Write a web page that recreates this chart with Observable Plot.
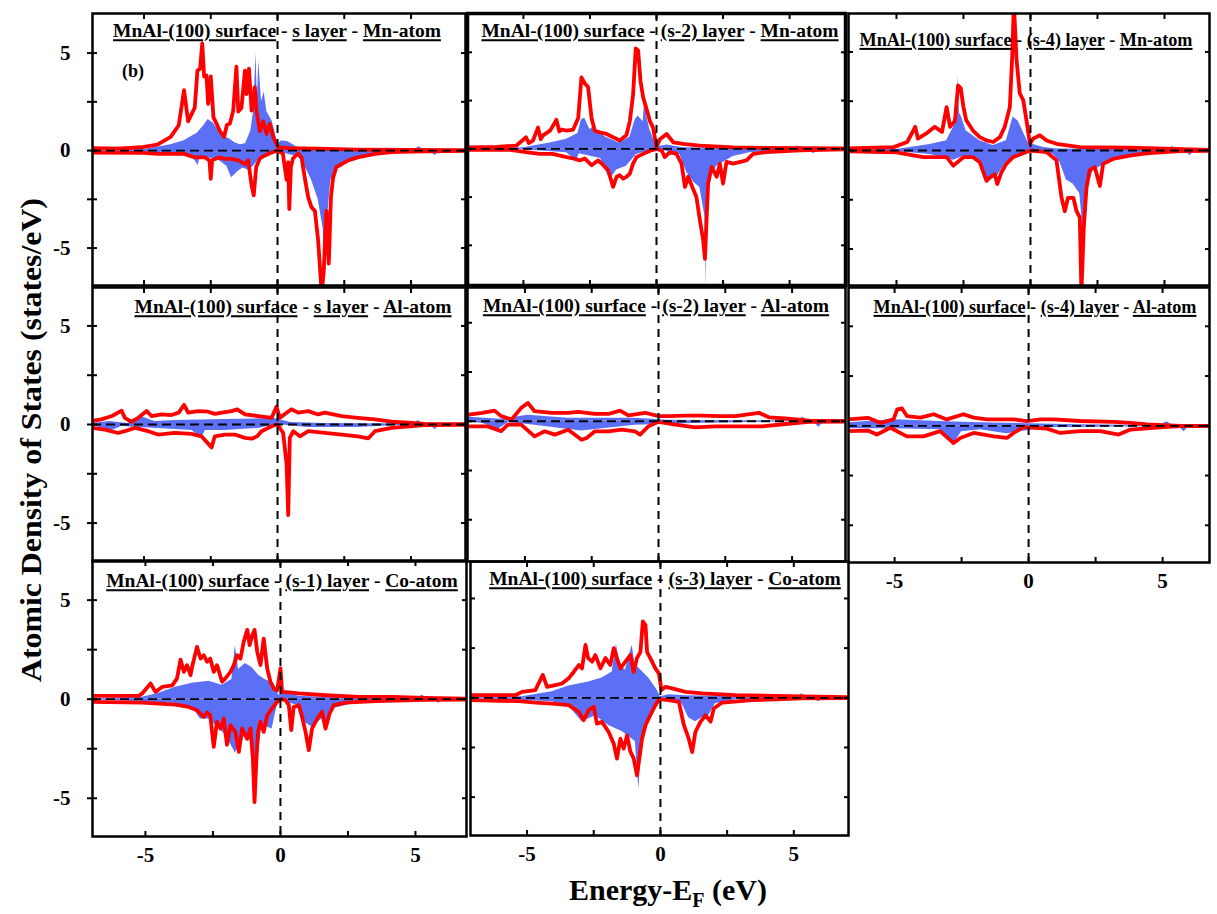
<!DOCTYPE html>
<html><head><meta charset="utf-8">
<script src="https://cdn.jsdelivr.net/npm/d3@7"></script>
<script src="https://cdn.jsdelivr.net/npm/@observablehq/plot@0.6"></script>
<style>
body{margin:0;background:#fff;}
#fig{position:relative;width:1217px;height:914px;font-family:"Liberation Serif","Times New Roman",serif;font-weight:bold;color:#000;overflow:hidden;}
.ttl{position:absolute;font-size:19.5px;white-space:nowrap;transform:translate(-50%,-50%);line-height:1;}
.ttl u{text-decoration:underline;text-decoration-thickness:1.6px;text-underline-offset:2px;}
.ylab{position:absolute;font-size:30px;white-space:nowrap;transform:translate(-50%,-50%) rotate(-90deg) scaleX(1.06);}
.xlab{position:absolute;font-size:30px;white-space:nowrap;transform:translate(-50%,-50%);}
.tag{position:absolute;font-size:18px;}
</style></head>
<body><div id="fig"></div>
<script>
// ---------------- data: [energy (eV), DOS (states/eV)] ----------------
// Panel 1: s layer Mn-atom
const p1RedUp = [[-7,0.12],[-6,0.1],[-5.1,0.17],[-4.5,0.3],[-4.0,0.7],[-3.7,1.3],[-3.5,3.1],[-3.35,1.5],[-3.1,2.2],[-3.0,4.1],[-2.9,4.2],[-2.82,5.5],[-2.75,3.8],[-2.66,3.85],[-2.6,2.4],[-2.5,3.8],[-2.4,1.7],[-2.28,1.37],[-2.16,1.0],[-2.0,0.7],[-1.9,1.3],[-1.78,1.4],[-1.66,2.05],[-1.54,4.3],[-1.47,2.0],[-1.35,2.2],[-1.22,4.1],[-1.16,2.9],[-1.07,4.2],[-0.97,2.05],[-0.85,3.25],[-0.79,2.05],[-0.66,1.0],[-0.54,1.5],[-0.41,0.85],[-0.29,1.37],[-0.16,0.7],[-0.04,0.34],[0.02,0.17],[0.5,0.12],[1.5,0.1],[3,0.05],[5,0.03],[7,0.02]];
const p1RedDn = [[-7,-0.1],[-5,-0.12],[-4.5,-0.17],[-3.5,-0.17],[-3.1,-0.35],[-2.72,-0.35],[-2.55,-0.5],[-2.5,-1.45],[-2.45,-0.5],[-2.2,-0.35],[-1.97,-0.43],[-1.72,-0.43],[-1.47,-0.5],[-1.22,-0.7],[-1.1,-0.5],[-0.97,-1.8],[-0.89,-2.3],[-0.8,-0.85],[-0.66,-0.4],[-0.47,-0.25],[-0.22,-0.1],[0,0],[0.2,-0.15],[0.34,-1.5],[0.4,-0.6],[0.44,-3.0],[0.5,-0.85],[0.58,-0.4],[0.77,-0.15],[0.9,-0.35],[1.02,-1.4],[1.15,-2.4],[1.27,-2.9],[1.4,-3.1],[1.52,-4.6],[1.65,-7.2],[1.73,-6.2],[1.83,-3.1],[1.92,-5.8],[2.0,-2.4],[2.08,-1.4],[2.2,-0.85],[2.4,-0.7],[2.65,-0.5],[3.0,-0.35],[3.65,-0.17],[4.27,-0.08],[5,-0.05],[7,-0.02]];
const p1BlueUp = [[-7,0.02],[-5,0.05],[-4,0.3],[-3.5,0.5],[-3.0,0.9],[-2.75,1.3],[-2.6,1.6],[-2.4,1.4],[-2.2,1.0],[-2.0,0.7],[-1.8,0.6],[-1.6,0.4],[-1.4,0.3],[-1.2,0.35],[-1.0,1.0],[-0.9,2.0],[-0.8,5.0],[-0.76,2.5],[-0.7,4.6],[-0.6,2.5],[-0.5,3.0],[-0.4,2.0],[-0.2,1.5],[-0.1,1.0],[0,0.3],[0.15,0.5],[0.4,0.45],[0.7,0.2],[1.0,0.12],[2,0.05],[5.1,0.02],[5.3,0.2],[5.5,0.02],[7,0]];
const p1BlueDn = [[-7,-0.02],[-5,-0.05],[-4,-0.15],[-3.2,-0.3],[-2.97,-0.77],[-2.9,-0.3],[-2.5,-0.4],[-2.2,-0.5],[-1.9,-0.8],[-1.72,-1.4],[-1.5,-1.1],[-1.3,-0.9],[-1.1,-1.0],[-0.9,-0.8],[-0.72,-0.5],[-0.3,-0.1],[0,0],[0.4,-0.2],[0.77,-0.3],[1.02,-0.8],[1.27,-1.5],[1.52,-2.5],[1.71,-4.0],[1.77,-7.2],[1.83,-3.5],[1.9,-3.0],[2.0,-1.5],[2.27,-0.9],[2.77,-0.5],[3.5,-0.25],[4.5,-0.08],[5.7,-0.03],[5.9,-0.25],[6.1,-0.03],[7,0]];

// Panel 2: (s-2) layer Mn-atom
const p2RedUp = [[-7.1,0.08],[-6,0.1],[-5.26,0.17],[-4.9,0.6],[-4.8,0.3],[-4.64,0.43],[-4.45,1.1],[-4.35,0.5],[-4.26,0.7],[-4.0,0.94],[-3.76,1.5],[-3.65,0.9],[-3.57,1.0],[-3.38,0.94],[-3.13,1.0],[-2.94,1.6],[-2.82,3.7],[-2.7,3.4],[-2.57,3.2],[-2.44,1.6],[-2.32,0.94],[-2.13,0.85],[-1.88,0.77],[-1.63,0.6],[-1.38,0.43],[-1.13,0.7],[-1.0,1.45],[-0.88,2.8],[-0.78,5.2],[-0.69,5.1],[-0.6,3.5],[-0.5,2.65],[-0.38,2.1],[-0.25,1.45],[-0.13,1.1],[0,0.1],[0.13,0.5],[0.38,0.77],[0.63,0.34],[1.0,0.26],[1.63,0.17],[2.88,0.08],[4.1,0.05],[7.1,0.02]];
const p2RedDn = [[-7.1,-0.05],[-5.5,-0.05],[-4.9,-0.17],[-4.4,-0.26],[-3.9,-0.26],[-3.38,-0.43],[-3.13,-0.5],[-2.88,-0.6],[-2.7,-0.5],[-2.44,-0.85],[-2.19,-0.6],[-2.0,-0.85],[-1.82,-1.1],[-1.63,-1.97],[-1.5,-1.45],[-1.38,-1.37],[-1.25,-1.54],[-1.13,-1.45],[-1.0,-1.28],[-0.88,-0.77],[-0.75,-0.43],[-0.5,-0.26],[-0.19,-0.08],[0,0],[0.2,-0.1],[0.31,-0.43],[0.5,-0.17],[0.75,-0.26],[0.94,-0.77],[1.07,-1.97],[1.19,-1.45],[1.38,-2.1],[1.5,-2.5],[1.63,-3.7],[1.75,-4.7],[1.82,-5.7],[1.88,-3.7],[1.94,-1.8],[2.07,-0.94],[2.26,-1.45],[2.38,-0.77],[2.5,-1.8],[2.63,-0.68],[2.88,-0.77],[3.38,-0.6],[3.63,-0.26],[4.13,-0.17],[5.4,-0.08],[7.1,-0.03]];
const p2BlueUp = [[-7.1,0.02],[-5,0.05],[-4.0,0.3],[-3.38,0.5],[-2.95,0.8],[-2.82,1.5],[-2.7,1.6],[-2.5,1.0],[-2.3,1.2],[-2.25,0.9],[-1.9,0.6],[-1.4,0.3],[-1.0,0.6],[-0.8,1.5],[-0.69,1.7],[-0.5,1.4],[-0.44,2.6],[-0.35,1.6],[-0.25,1.0],[-0.06,0.3],[0,0.1],[0.4,0.2],[1.0,0.05],[5.1,0.02],[5.3,0.15],[5.5,0.02],[7.1,0]];
const p2BlueDn = [[-7.1,-0.02],[-5,-0.05],[-3.38,-0.2],[-3.0,-0.6],[-2.9,-0.25],[-2.1,-0.5],[-1.75,-1.6],[-1.5,-1.1],[-1.13,-0.9],[-0.75,-0.3],[0,0],[0.88,-0.3],[1.13,-1.2],[1.38,-1.7],[1.63,-2.0],[1.82,-3.5],[1.85,-7.2],[1.9,-2.5],[2.0,-1.5],[2.26,-0.9],[2.88,-0.4],[3.5,-0.2],[5.7,-0.03],[5.9,-0.25],[6.1,-0.03],[7.1,0]];

// Panel 3: (s-4) layer Mn-atom
const p3RedUp = [[-6.8,0.1],[-5.1,0.17],[-4.6,0.43],[-4.3,1.2],[-4.2,0.6],[-3.9,0.85],[-3.57,1.2],[-3.3,0.94],[-3.13,2.2],[-3.0,1.2],[-2.82,1.5],[-2.7,3.3],[-2.6,3.15],[-2.5,2.2],[-2.4,1.54],[-2.14,1.0],[-1.89,0.68],[-1.64,0.51],[-1.39,0.43],[-1.14,0.68],[-0.96,1.2],[-0.77,2.2],[-0.68,4.8],[-0.62,7.5],[-0.52,4.6],[-0.4,2.9],[-0.27,2.56],[-0.15,1.54],[-0.02,0.34],[0.1,0.6],[0.35,0.77],[0.6,0.51],[0.97,0.34],[1.84,0.17],[3.7,0.14],[6.7,0.03]];
const p3RedDn = [[-6.8,-0.05],[-5,-0.1],[-4.0,-0.34],[-3.13,-0.34],[-2.88,-0.77],[-2.5,-0.34],[-2.14,-0.34],[-1.89,-0.6],[-1.64,-1.54],[-1.52,-1.37],[-1.33,-1.2],[-1.24,-1.7],[-1.08,-1.1],[-0.9,-0.68],[-0.65,-0.34],[-0.15,-0.08],[0,0],[0.6,-0.08],[0.97,-0.5],[1.16,-2.4],[1.28,-3.08],[1.4,-2.4],[1.6,-2.4],[1.72,-3.08],[1.84,-3.4],[1.9,-7.2],[1.99,-3.9],[2.09,-1.9],[2.21,-1.0],[2.4,-0.85],[2.59,-1.8],[2.71,-0.68],[3.08,-0.43],[3.7,-0.26],[4.33,-0.14],[5.57,-0.03],[6.7,-0.02]];
const p3BlueUp = [[-6.8,0.02],[-5,0.05],[-3.75,0.3],[-3.13,0.5],[-2.75,1.5],[-2.72,3.76],[-2.65,1.9],[-2.57,1.7],[-2.4,1.0],[-1.89,0.5],[-1.39,0.25],[-0.9,0.5],[-0.65,1.7],[-0.46,1.5],[-0.09,0.4],[0.1,0.3],[0.5,0.15],[1.0,0.07],[5.1,0.02],[5.3,0.2],[5.5,0.02],[6.7,0]];
const p3BlueDn = [[-6.8,-0.02],[-5,-0.05],[-3.75,-0.2],[-2.88,-0.5],[-2.5,-0.3],[-1.89,-0.5],[-1.58,-1.6],[-1.24,-1.3],[-0.9,-0.6],[-0.4,-0.2],[0,0],[0.85,-0.2],[1.1,-0.6],[1.34,-1.5],[1.59,-1.7],[1.84,-2.2],[1.96,-4.0],[2.09,-2.0],[2.34,-1.0],[3.08,-0.5],[4.33,-0.2],[5.75,-0.03],[5.95,-0.25],[6.15,-0.03],[6.7,0]];

// Panel 4: s layer Al-atom
const p4RedUp = [[-6.97,0.17],[-6.6,0.26],[-6.2,0.43],[-5.84,0.7],[-5.72,0.34],[-5.47,0.14],[-5.22,0.34],[-4.9,0.68],[-4.72,0.43],[-4.34,0.51],[-3.97,0.48],[-3.7,0.6],[-3.5,1.0],[-3.35,0.6],[-2.97,0.68],[-2.6,0.65],[-2.35,0.54],[-1.97,0.63],[-1.72,0.68],[-1.51,0.77],[-1.22,0.51],[-0.72,0.43],[-0.22,0.34],[-0.04,0.9],[0.09,0.34],[0.52,0.77],[0.77,0.6],[1.15,0.68],[1.52,0.51],[1.77,0.6],[2.4,0.43],[3.0,0.34],[3.65,0.26],[4.27,0.14],[4.9,0.09],[5.5,0.03],[7.0,0.02]];
const p4RedDn = [[-6.97,-0.17],[-6.47,-0.26],[-5.97,-0.43],[-5.72,-0.34],[-5.34,-0.17],[-4.85,-0.34],[-4.47,-0.51],[-3.85,-0.43],[-3.22,-0.48],[-2.85,-0.6],[-2.47,-1.16],[-2.35,-0.6],[-1.97,-0.51],[-1.6,-0.51],[-1.22,-0.68],[-0.97,-0.72],[-0.76,-0.6],[-0.6,-0.34],[-0.22,-0.09],[0,0],[0.21,-0.43],[0.34,-2.0],[0.4,-4.6],[0.46,-0.68],[0.59,-0.34],[0.84,-0.6],[1.15,-0.34],[1.77,-0.43],[2.4,-0.51],[3.0,-0.6],[3.4,-0.7],[3.65,-0.34],[4.27,-0.17],[5.5,-0.03],[7.0,-0.02]];
const p4BlueUp = [[-6.97,0.05],[-6.3,0.15],[-5.6,0.05],[-5.1,0.4],[-4.6,0.15],[-3.85,0.2],[-1.97,0.25],[-0.1,0.3],[0.5,0.1],[1.77,0.05],[5.1,0.02],[5.27,0.2],[5.45,0.02],[7.0,0]];
const p4BlueDn = [[-6.97,-0.05],[-6.2,-0.3],[-5.84,-0.1],[-4.47,-0.2],[-3.2,-0.3],[-2.85,-0.7],[-2.7,-0.3],[-1.97,-0.3],[-0.72,-0.2],[0,0],[1.15,-0.15],[3.0,-0.15],[4.5,-0.05],[5.7,-0.03],[5.9,-0.25],[6.1,-0.03],[7,0]];

// Panel 5: (s-2) layer Al-atom
const p5RedUp = [[-7.1,0.34],[-6.6,0.43],[-6.14,0.54],[-5.89,0.26],[-5.5,0.09],[-5.14,0.68],[-4.89,0.93],[-4.64,0.51],[-4.0,0.43],[-3.38,0.43],[-3.0,0.48],[-2.38,0.37],[-1.88,0.37],[-1.44,0.54],[-1.13,0.3],[-0.5,0.43],[0,0.26],[0.38,0.26],[1.0,0.29],[1.63,0.29],[2.26,0.26],[2.88,0.26],[3.76,0.43],[4.13,0.2],[4.76,0.14],[5.64,0.03],[7.1,0.02]];
const p5RedDn = [[-7.1,-0.26],[-6.4,-0.26],[-5.89,-0.5],[-5.64,-0.17],[-5.14,-0.17],[-4.64,-0.77],[-4.26,-0.51],[-3.88,-0.68],[-3.38,-0.43],[-2.88,-0.94],[-2.69,-0.85],[-2.38,-0.51],[-1.88,-0.51],[-1.38,-0.43],[-0.88,-0.51],[-0.69,-0.68],[-0.38,-0.26],[0,-0.03],[0.63,-0.17],[1.38,-0.31],[2.13,-0.26],[2.88,-0.26],[3.88,-0.26],[4.76,-0.14],[5.64,-0.03],[7.1,-0.02]];
const p5BlueUp = [[-7.1,0.2],[-5.89,0.1],[-4.89,0.3],[-3.38,0.15],[-0.88,0.15],[0.38,0.05],[5.2,0.02],[5.4,0.2],[5.6,0.02],[7.1,0]];
const p5BlueDn = [[-7.1,-0.05],[-6.6,-0.1],[-6.0,-0.4],[-5.6,-0.05],[-4.64,-0.2],[-2.88,-0.5],[-0.88,-0.2],[1.63,-0.1],[5.0,-0.03],[5.8,-0.03],[6.0,-0.3],[6.2,-0.03],[7.1,0]];

// Panel 6: (s-4) layer Al-atom
const p6RedUp = [[-6.78,0.32],[-6.0,0.4],[-5.53,0.15],[-5.04,0.32],[-4.9,0.83],[-4.73,0.88],[-4.54,0.49],[-4.04,0.41],[-3.54,0.58],[-3.05,0.32],[-2.43,0.58],[-2.05,0.41],[-1.56,0.32],[-1.06,0.32],[-0.56,0.32],[-0.06,0.24],[0.44,0.32],[0.93,0.32],[1.93,0.24],[3.17,0.2],[3.8,0.15],[4.42,0.07],[5.66,0.0],[6.7,0.0]];
const p6RedDn = [[-6.78,-0.27],[-6.0,-0.24],[-5.66,-0.44],[-5.16,-0.1],[-4.54,-0.53],[-3.92,-0.53],[-3.3,-0.27],[-2.8,-0.87],[-2.55,-0.61],[-2.05,-0.36],[-1.3,-0.53],[-0.81,-0.61],[-0.56,-0.36],[-0.19,-0.07],[0.68,-0.14],[1.18,-0.36],[1.93,-0.27],[2.67,-0.27],[3.36,-0.44],[3.8,-0.19],[5.04,-0.07],[5.66,-0.02],[6.7,-0.02]];
const p6BlueUp = [[-6.78,0.15],[-5.0,0.3],[-3.05,0.2],[-1.8,0.15],[0.06,0.1],[1.93,0.05],[4.9,0.02],[5.16,0.2],[5.4,0.02],[6.7,0]];
const p6BlueDn = [[-6.78,-0.15],[-5.0,-0.15],[-3.3,-0.2],[-2.8,-0.9],[-2.5,-0.3],[-1.8,-0.2],[-0.81,-0.4],[0.68,-0.1],[4.5,-0.05],[5.6,-0.03],[5.8,-0.3],[6.0,-0.03],[6.7,0]];

// Panel 7: (s-1) layer Co-atom
const p7RedUp = [[-7.0,0.17],[-5.25,0.17],[-5.12,0.29],[-4.81,0.79],[-4.63,0.37],[-4.38,0.62],[-4.0,0.7],[-3.83,1.05],[-3.7,2.0],[-3.58,1.38],[-3.46,1.72],[-3.33,1.21],[-3.27,1.64],[-3.09,2.64],[-2.96,2.05],[-2.84,2.22],[-2.72,1.89],[-2.6,2.05],[-2.47,1.38],[-2.35,1.72],[-2.16,0.88],[-2.04,1.05],[-1.85,1.38],[-1.73,1.72],[-1.6,2.22],[-1.48,2.05],[-1.36,2.9],[-1.23,3.5],[-1.14,2.73],[-1.05,3.2],[-0.96,3.5],[-0.86,2.39],[-0.74,1.72],[-0.62,3.06],[-0.49,1.55],[-0.37,0.88],[-0.25,0.54],[-0.12,0.45],[0,1.55],[0.06,0.37],[0.31,0.34],[0.68,0.29],[1.67,0.2],[2.9,0.12],[4.14,0.12],[5.37,0.07],[7.0,0.03]];
const p7RedDn = [[-7.0,-0.13],[-5.12,-0.17],[-4.5,-0.22],[-3.89,-0.27],[-3.4,-0.39],[-3.09,-0.56],[-2.84,-0.89],[-2.72,-0.67],[-2.6,-0.81],[-2.47,-2.4],[-2.35,-1.14],[-2.22,-1.48],[-2.1,-0.98],[-1.98,-2.3],[-1.85,-1.31],[-1.67,-1.65],[-1.54,-2.66],[-1.42,-1.48],[-1.23,-2.0],[-1.11,-1.48],[-1.02,-3.0],[-0.96,-5.2],[-0.9,-3.3],[-0.83,-1.65],[-0.74,-1.14],[-0.62,-1.65],[-0.49,-0.81],[-0.31,-0.47],[-0.12,-0.13],[0,0],[0.19,-0.05],[0.31,-0.3],[0.4,-1.56],[0.49,-0.39],[0.68,-0.3],[0.8,-0.89],[0.93,-1.65],[1.05,-2.57],[1.17,-1.48],[1.36,-0.98],[1.54,-0.64],[1.67,-1.48],[1.82,-0.72],[1.98,-0.3],[2.41,-0.17],[3.52,-0.1],[5.37,-0.03],[7.0,-0.02]];
const p7BlueUp = [[-7.0,0.02],[-5.12,0.1],[-4.5,0.3],[-3.89,0.6],[-3.27,0.8],[-2.65,0.9],[-2.16,0.7],[-1.8,1.0],[-1.67,2.7],[-1.55,1.5],[-1.3,1.8],[-1.05,1.6],[-0.8,1.2],[-0.57,1.0],[-0.25,0.8],[-0.06,0.2],[0.19,0.35],[0.68,0.15],[1.67,0.08],[5.05,0.02],[5.25,0.2],[5.45,0.02],[7.0,0]];
const p7BlueDn = [[-7.0,-0.02],[-4.0,-0.2],[-3.27,-0.4],[-2.96,-1.0],[-2.65,-1.0],[-2.04,-1.8],[-1.67,-2.7],[-1.3,-1.8],[-1.05,-2.0],[-0.93,-4.0],[-0.68,-1.3],[-0.31,-1.5],[-0.12,-0.3],[0,0],[0.31,-0.2],[0.68,-0.3],[0.93,-1.2],[1.17,-1.4],[1.54,-1.0],[1.73,-1.3],[1.91,-0.5],[2.9,-0.15],[5.66,-0.03],[5.86,-0.2],[6.06,-0.03],[7.0,0]];

// Panel 8: (s-3) layer Co-atom
const p8RedUp = [[-7.1,0.13],[-5.44,0.13],[-5.19,0.3],[-4.69,0.39],[-4.41,1.15],[-4.25,0.55],[-3.94,0.64],[-3.69,0.72],[-3.44,0.98],[-3.25,1.3],[-3.06,1.65],[-2.94,1.48],[-2.81,2.66],[-2.71,2.0],[-2.56,1.82],[-2.44,2.15],[-2.25,1.48],[-2.06,2.0],[-1.88,1.65],[-1.75,2.5],[-1.63,2.0],[-1.5,1.48],[-1.31,1.82],[-1.13,2.15],[-1.0,1.31],[-0.88,2.0],[-0.75,2.3],[-0.66,3.84],[-0.56,3.67],[-0.5,2.3],[-0.38,2.0],[-0.19,1.48],[-0.06,1.23],[0.04,0.39],[0.19,0.55],[0.44,0.47],[0.94,0.3],[1.56,0.22],[2.81,0.13],[5.31,0.07],[7.0,0.03]];
const p8RedDn = [[-7.1,-0.12],[-5.31,-0.17],[-4.69,-0.24],[-4.06,-0.29],[-3.44,-0.37],[-3.06,-0.71],[-2.88,-1.13],[-2.69,-0.62],[-2.5,-0.45],[-2.38,-1.3],[-2.19,-1.21],[-1.94,-1.72],[-1.75,-2.31],[-1.63,-3.06],[-1.5,-2.06],[-1.38,-2.56],[-1.25,-1.89],[-1.13,-2.7],[-1.0,-3.06],[-0.88,-3.9],[-0.79,-3.06],[-0.69,-2.06],[-0.56,-1.38],[-0.38,-0.88],[-0.19,-0.37],[-0.04,-0.07],[0.31,-0.12],[0.69,-0.2],[0.88,-1.38],[1.06,-2.06],[1.19,-2.73],[1.31,-1.72],[1.5,-1.21],[1.69,-0.88],[1.88,-1.2],[2.0,-0.54],[2.31,-0.24],[3.44,-0.12],[5.31,-0.03],[7.0,-0.02]];
const p8BlueUp = [[-7.1,0.02],[-5.19,0.05],[-4.06,0.3],[-3.44,0.6],[-2.69,0.8],[-2.19,1.0],[-1.81,1.3],[-1.65,2.7],[-1.5,1.6],[-1.31,1.4],[-1.06,2.65],[-0.94,1.6],[-0.81,1.5],[-0.44,1.0],[-0.13,0.4],[0,0.05],[0.31,0.15],[0.94,0.1],[5.1,0.02],[5.3,0.2],[5.5,0.02],[7.0,0]];
const p8BlueDn = [[-7.1,-0.02],[-4.06,-0.2],[-3.44,-0.4],[-2.94,-1.2],[-2.44,-0.9],[-1.94,-1.4],[-1.44,-1.7],[-0.94,-2.2],[-0.81,-4.6],[-0.69,-2.0],[-0.44,-1.0],[-0.19,-0.3],[0,0],[0.81,-0.3],[1.06,-1.0],[1.31,-1.2],[1.56,-1.0],[1.81,-0.9],[2.06,-0.3],[2.81,-0.1],[5.7,-0.03],[5.94,-0.2],[6.1,-0.03],[7.0,0]];

// titles and ticks
const titleHead = "MnAl-(100) surface";
const layers = ["s layer","(s-2) layer","(s-4) layer","s layer","(s-2) layer","(s-4) layer","(s-1) layer","(s-3) layer"];
const atoms = ["Mn-atom","Mn-atom","Mn-atom","Al-atom","Al-atom","Al-atom","Co-atom","Co-atom"];
const minorTicks = [-5,-2.5,0,2.5,5];
const labelTicks = [-5,0,5];
const yTitle = "Atomic Density of States (states/eV)";
const panelTag = "(b)";

// ---------------- layout ----------------
const blue = "#5c70f5", red = "#ff0000";
const serif = "'Liberation Serif', 'Times New Roman', serif";
const panels = [
  {frame:[92,13,465,285], xd:[-6.93,7.04], yd:[-6.92,7.03], sw:2.5, yl:true, xl:false, t:[277,31], fs:19.5, d:[p1RedUp,p1RedDn,p1BlueUp,p1BlueDn]},
  {frame:[467,13,845,285], xd:[-7.1,7.1], yd:[-7.08,7.01], sw:3.5, yl:false, xl:false, t:[660,31], fs:19.5, d:[p2RedUp,p2RedDn,p2BlueUp,p2BlueDn]},
  {frame:[848,13,1209,285], xd:[-6.79,6.68], yd:[-6.85,6.95], sw:2.5, yl:false, xl:false, t:[1026,40], fs:18.2, d:[p3RedUp,p3RedDn,p3BlueUp,p3BlueDn]},
  {frame:[92,287,465,561], xd:[-6.93,7.04], yd:[-6.95,6.95], sw:2.5, yl:true, xl:false, t:[293,307], fs:19.5, d:[p4RedUp,p4RedDn,p4BlueUp,p4BlueDn]},
  {frame:[467,287,845,561], xd:[-7.15,7.0], yd:[-7.12,6.79], sw:2.5, yl:false, xl:false, t:[656,306], fs:19.5, d:[p5RedUp,p5RedDn,p5BlueUp,p5BlueDn]},
  {frame:[848,287,1209,562], xd:[-6.72,6.75], yd:[-6.87,6.95], sw:2.5, yl:false, xl:true, t:[1035,307], fs:18.2, d:[p6RedUp,p6RedDn,p6BlueUp,p6BlueDn]},
  {frame:[92,560,466,836], xd:[-6.96,6.89], yd:[-6.93,7.0], sw:2.5, yl:true, xl:true, t:[282,581], fs:19.5, d:[p7RedUp,p7RedDn,p7BlueUp,p7BlueDn]},
  {frame:[470,561,848,835], xd:[-7.12,7.05], yd:[-6.93,6.86], sw:2.5, yl:false, xl:true, t:[665,579], fs:19.5, d:[p8RedUp,p8RedDn,p8BlueUp,p8BlueDn]}
];

const fig = document.getElementById("fig");
const X = d => d[0], Y = d => d[1];
const fmt = d => String(d);

panels.forEach((p, i) => {
  const [L, T, R, B] = p.frame;
  const pad = 4;
  const ml = p.yl ? 60 : pad, mb = p.xl ? 40 : pad;
  const [ru, rd, bu, bd] = p.d;
  const marks = [
    Plot.areaY(bu, {x: X, y: Y, fill: blue, clip: true}),
    Plot.areaY(bd, {x: X, y: Y, fill: blue, clip: true}),
    Plot.lineY(ru, {x: X, y: Y, stroke: red, strokeWidth: 3.8, strokeLinejoin: "round", clip: true}),
    Plot.lineY(rd, {x: X, y: Y, stroke: red, strokeWidth: 3.8, strokeLinejoin: "round", clip: true}),
    Plot.ruleY([0], {stroke: "black", strokeWidth: 1.8, strokeDasharray: "9,5"}),
    Plot.ruleX([0], {stroke: "black", strokeWidth: 2, strokeDasharray: "8,6"}),
    Plot.axisX(minorTicks, {anchor: "bottom", tickSize: -5, tickFormat: () => "", label: null, strokeWidth: 2}),
    Plot.axisX(minorTicks, {anchor: "top", tickSize: -5, tickFormat: () => "", label: null, strokeWidth: 2}),
    Plot.axisY(minorTicks, {anchor: "left", tickSize: -5, tickFormat: () => "", label: null, strokeWidth: 2}),
    Plot.axisY(minorTicks, {anchor: "right", tickSize: -5, tickFormat: () => "", label: null, strokeWidth: 2}),
    Plot.frame({stroke: "black", strokeWidth: p.sw})
  ];
  if (p.yl) {
    marks.push(Plot.axisY(minorTicks, {anchor: "left", tickSize: 5, tickFormat: () => "", label: null, strokeWidth: 2}));
    marks.push(Plot.axisY(labelTicks, {anchor: "left", tickSize: 0, tickPadding: 22, tickFormat: fmt, label: null, fontSize: 21, fontWeight: "bold", fontFamily: serif}));
  }
  if (p.xl) {
    marks.push(Plot.axisX(labelTicks, {anchor: "bottom", tickSize: 0, tickPadding: 11, tickFormat: fmt, label: null, fontSize: 21, fontWeight: "bold", fontFamily: serif}));
  }
  const svg = Plot.plot({
    width: (R - L) + ml + pad, height: (B - T) + pad + mb,
    marginLeft: ml, marginRight: pad, marginTop: pad, marginBottom: mb,
    x: {domain: p.xd}, y: {domain: p.yd},
    style: {overflow: "visible", background: "transparent", fontFamily: serif, fontWeight: "bold", fontSize: "21px", color: "black"},
    marks
  });
  svg.style.position = "absolute";
  svg.style.left = (L - ml) + "px";
  svg.style.top = (T - pad) + "px";
  fig.appendChild(svg);

  const t = document.createElement("div");
  t.className = "ttl";
  t.style.left = p.t[0] + "px"; t.style.top = p.t[1] + "px"; t.style.fontSize = p.fs + "px";
  t.innerHTML = `<u>${titleHead}</u> - <u>${layers[i]}</u> - <u>${atoms[i]}</u>`;
  fig.appendChild(t);
});

const tag = document.createElement("div");
tag.className = "tag"; tag.style.left = "122px"; tag.style.top = "61px"; tag.textContent = panelTag;
fig.appendChild(tag);

const yl = document.createElement("div");
yl.className = "ylab"; yl.style.left = "31px"; yl.style.top = "440px"; yl.textContent = yTitle;
fig.appendChild(yl);

const xl = document.createElement("div");
xl.className = "xlab"; xl.style.left = "668px"; xl.style.top = "892px";
xl.innerHTML = 'Energy-E<sub style="font-size:20px;vertical-align:-7px">F</sub> (eV)';
fig.appendChild(xl);
</script>
</body></html>
